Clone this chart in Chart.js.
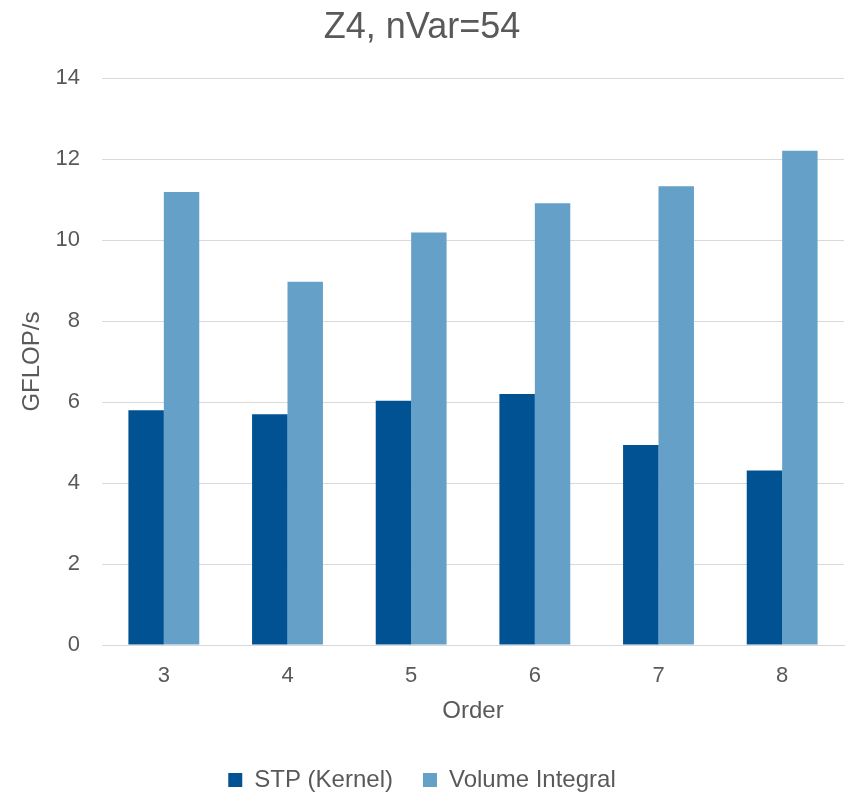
<!DOCTYPE html>
<html>
<head>
<meta charset="utf-8">
<title>Z4, nVar=54</title>
<script src="https://cdn.jsdelivr.net/npm/chart.js@4.4.1/dist/chart.umd.min.js"></script>
<style>
  html, body { margin: 0; padding: 0; background: #ffffff; }
  #wrap { width: 848px; height: 793px; }
</style>
</head>
<body>
<div id="wrap"><canvas id="gflops" width="848" height="793"></canvas></div>
<script>
// GFLOP/s per polynomial order, Z4 system with 54 variables
var orders = ['3', '4', '5', '6', '7', '8'];
var stpKernel = [5.80, 5.70, 6.03, 6.20, 4.94, 4.31];
var volumeIntegral = [11.19, 8.97, 10.19, 10.91, 11.33, 12.21];
var yTicks = [0, 2, 4, 6, 8, 10, 12, 14];

var textColor = '#595959';
var gridColor = '#d9d9d9';
var fontFamily = '"Liberation Sans", Arial, sans-serif';

// plot area edges in canvas pixels
var plotLeft = 102;
var plotBottom = 645;
var padBottom = -9;

Chart.defaults.font.family = fontFamily;
Chart.defaults.color = textColor;

var ctx = document.getElementById('gflops');
var chart = new Chart(ctx, {
    type: 'bar',
    data: {
        labels: orders,
        datasets: [
            {
                label: 'STP (Kernel)',
                data: stpKernel,
                backgroundColor: '#005293',
                borderWidth: 0
            },
            {
                label: 'Volume Integral',
                data: volumeIntegral,
                backgroundColor: '#64a0c8',
                borderWidth: 0
            }
        ]
    },
    options: {
        responsive: false,
        animation: false,
        layout: {
            padding: { left: 0, right: 4, top: 0, bottom: padBottom }
        },
        datasets: {
            bar: { categoryPercentage: 0.573, barPercentage: 1.0 }
        },
        plugins: {
            title: {
                display: true,
                text: 'Z4, nVar=54',
                color: textColor,
                font: { size: 36, weight: 'normal' },
                padding: { top: 6, bottom: 29 }
            },
            legend: {
                position: 'bottom',
                labels: {
                    color: textColor,
                    font: { size: 24 },
                    boxWidth: 14,
                    boxHeight: 14,
                    padding: 30
                }
            },
            tooltip: { enabled: false }
        },
        scales: {
            x: {
                grid: { display: false, drawTicks: false },
                border: { display: true, color: gridColor, width: 1 },
                ticks: { color: textColor, font: { size: 22 }, padding: 18 },
                title: {
                    display: true,
                    text: 'Order',
                    color: textColor,
                    font: { size: 24 },
                    padding: { top: 8, bottom: 12 }
                },
                afterFit: function (scale) {
                    var legendH = scale.chart.legend ? scale.chart.legend.height : 0;
                    scale.height = scale.chart.height - plotBottom - legendH - padBottom;
                }
            },
            y: {
                min: 0,
                max: 14,
                afterBuildTicks: function (scale) {
                    scale.ticks = yTicks.map(function (v) { return { value: v }; });
                },
                grid: { color: gridColor, lineWidth: 1, drawTicks: false },
                border: { display: false },
                ticks: { color: textColor, font: { size: 22 }, padding: 22 },
                title: {
                    display: true,
                    text: 'GFLOP/s',
                    color: textColor,
                    font: { size: 24 },
                    padding: { top: 18, bottom: 0 }
                },
                afterFit: function (scale) {
                    scale.width = plotLeft;
                }
            }
        }
    }
});
</script>
</body>
</html>
